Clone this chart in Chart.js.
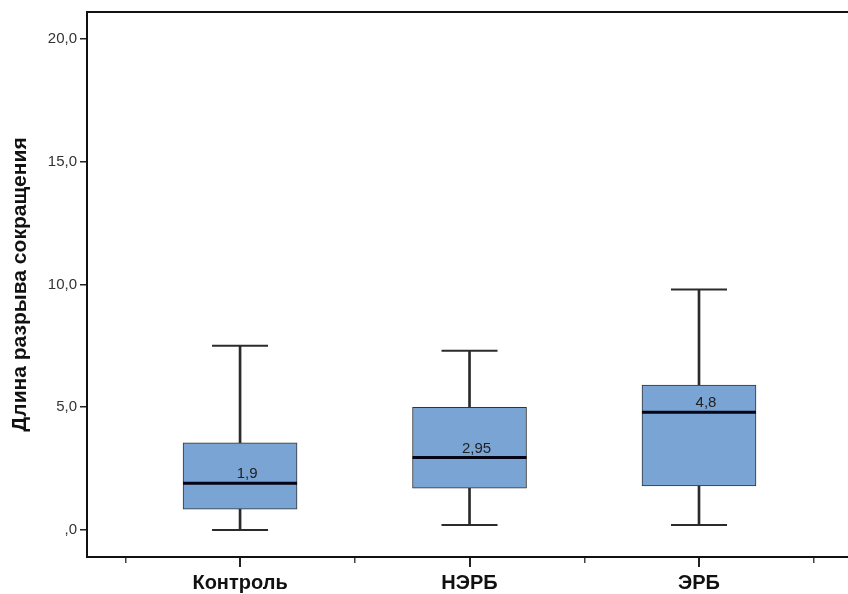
<!DOCTYPE html>
<html>
<head>
<meta charset="utf-8">
<script src="https://cdn.jsdelivr.net/npm/chart.js@4"></script>
<style>
  body { margin: 0; background: #fff; overflow: hidden; }
  #wrap { width: 848px; height: 594px; }
</style>
</head>
<body>
<div id="wrap"><canvas id="graph"></canvas></div>
<script>
const categories = ['Контроль', 'НЭРБ', 'ЭРБ'];
const whiskerMin = [0, 0.2, 0.2];
const q1 = [0.85, 1.7, 1.8];
const medians = [1.9, 2.95, 4.8];
const q3 = [3.55, 5.0, 5.9];
const whiskerMax = [7.5, 7.3, 9.8];
const yTicks = [0, 5, 10, 15, 20];
const yTickLabels = [',0', '5,0', '10,0', '15,0', '20,0'];
const halfTicks = [-0.5, 0.5, 1.5, 2.5];

const FONT = "'Liberation Sans', Arial, sans-serif";
const X_MIN = -0.667, X_MAX = 2.645;

// median values written above the median line
const medianLabels = {
    id: 'medianLabels',
    afterDatasetsDraw(chart) {
        const ctx = chart.ctx;
        const xs = chart.scales.x, ys = chart.scales.y;
        ctx.save();
        ctx.font = '15px ' + FONT;
        ctx.fillStyle = '#222';
        ctx.textAlign = 'center';
        ctx.textBaseline = 'alphabetic';
        medians.forEach((m, i) => {
            const txt = String(m).replace('.', ',');
            ctx.fillText(txt, xs.getPixelForValue(i) + 7, ys.getPixelForValue(m) - 5);
        });
        ctx.restore();
    }
};

const ctx = document.getElementById('graph').getContext('2d');
new Chart(ctx, {
    type: 'bar',
    data: {
        datasets: [
            {
                // whisker stems
                data: categories.map((c, i) => ({ x: i, y: [whiskerMin[i], whiskerMax[i]] })),
                backgroundColor: '#2b2b2b',
                barThickness: 2,
                grouped: false,
                order: 3
            },
            {
                // boxes
                data: categories.map((c, i) => ({ x: i, y: [q1[i], q3[i]] })),
                backgroundColor: '#79a4d3',
                borderColor: '#333',
                borderWidth: 1,
                borderSkipped: false,
                barThickness: 114,
                grouped: false,
                order: 2
            },
            {
                // whisker caps
                type: 'line',
                data: categories.flatMap((c, i) => [{ x: i, y: whiskerMin[i] }, { x: i, y: whiskerMax[i] }]),
                showLine: false,
                pointStyle: 'line',
                pointRadius: 28,
                pointBorderWidth: 2,
                pointBorderColor: '#2b2b2b',
                clip: false,
                order: 1
            },
            {
                // medians
                type: 'line',
                data: categories.map((c, i) => ({ x: i, y: medians[i] })),
                showLine: false,
                pointStyle: 'line',
                pointRadius: 57,
                pointBorderWidth: 3,
                pointBorderColor: '#050518',
                clip: false,
                order: 0
            }
        ]
    },
    options: {
        responsive: true,
        maintainAspectRatio: false,
        animation: false,
        events: [],
        layout: { autoPadding: false, padding: { top: 11, right: 1, left: 0, bottom: 0 } },
        plugins: {
            legend: { display: false },
            tooltip: { enabled: false }
        },
        scales: {
            x: {
                type: 'linear',
                position: 'bottom',
                weight: 1,
                offset: false,
                min: X_MIN,
                max: X_MAX,
                afterBuildTicks: s => { s.ticks = categories.map((c, i) => ({ value: i })); },
                afterFit: s => { s.height = 37; },
                ticks: {
                    callback: v => categories[v],
                    font: { family: FONT, size: 20, weight: 'bold' },
                    color: '#111',
                    padding: 4,
                    maxRotation: 0,
                    autoSkip: false
                },
                grid: { offset: false, drawOnChartArea: false, tickLength: 10, tickColor: '#222', lineWidth: 2 },
                border: { color: '#111', width: 2 }
            },
            xMinor: {
                type: 'linear',
                position: 'bottom',
                weight: 0,
                offset: false,
                min: X_MIN,
                max: X_MAX,
                afterBuildTicks: s => { s.ticks = halfTicks.map(v => ({ value: v })); },
                afterFit: s => { s.height = 0; },
                ticks: { display: false, autoSkip: false },
                grid: { offset: false, drawOnChartArea: false, tickLength: 6, tickColor: '#444', lineWidth: 1.5 },
                border: { display: false }
            },
            xTop: {
                type: 'linear',
                position: 'top',
                offset: false,
                min: X_MIN,
                max: X_MAX,
                afterFit: s => { s.height = 0; },
                ticks: { display: false },
                grid: { display: false },
                border: { color: '#111', width: 2 }
            },
            y: {
                min: -1.1,
                max: 21.1,
                afterBuildTicks: s => { s.ticks = yTicks.map(v => ({ value: v })); },
                afterFit: s => { s.width = 87; },
                ticks: {
                    callback: (v, idx) => yTickLabels[idx],
                    font: { family: FONT, size: 15 },
                    color: '#333',
                    padding: 3
                },
                grid: { drawOnChartArea: false, tickLength: 7, tickColor: '#222', lineWidth: 1.5 },
                border: { color: '#111', width: 2 },
                title: {
                    display: true,
                    text: 'Длина разрыва сокращения',
                    font: { family: FONT, size: 21, weight: 'bold' },
                    color: '#111',
                    padding: 8
                }
            }
        }
    },
    plugins: [medianLabels]
});
</script>
</body>
</html>
